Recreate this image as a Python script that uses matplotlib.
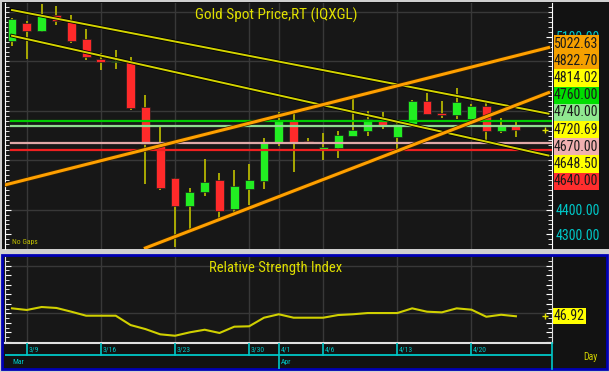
import matplotlib
matplotlib.use('Agg')
import matplotlib.pyplot as plt
import matplotlib.patheffects as pe
from matplotlib.patches import Rectangle
from matplotlib.ticker import MultipleLocator, FixedLocator, FormatStrFormatter
from matplotlib import font_manager

W, H = 609, 372

# schmale Schrift suchen, sonst Liberation Sans
fams = {f.name for f in font_manager.fontManager.ttflist}
NARROW = 'Liberation Sans'
for cand in ['Liberation Sans Narrow', 'Arial Narrow', 'Roboto Condensed',
             'Archivo Narrow', 'PT Sans Narrow', 'Open Sans Condensed']:
    if cand in fams:
        NARROW = cand
        break
plt.rcParams['font.family'] = [NARROW, 'DejaVu Sans']

# --- daten ---
dates = ['3/6', '3/9', '3/10', '3/11', '3/12', '3/13',
         '3/16', '3/17', '3/18', '3/19', '3/20',
         '3/23', '3/24', '3/25', '3/26', '3/27',
         '3/30', '3/31', '4/1', '4/2', '4/3',
         '4/6', '4/7', '4/8', '4/9', '4/10',
         '4/13', '4/14', '4/15', '4/16', '4/17',
         '4/20', '4/21', '4/22', '4/23']
opens = [5081, 5154, 5124, 5188, 5168, 5090, 5009, 4996, 4996, 4817, 4665,
         4527, 4415, 4470, 4519, 4401, 4485, 4515, 4673, 4759, 4678,
         4647, 4648, 4698, 4717, 4759, 4693, 4740, 4840, 4792, 4783,
         4767, 4821, 4717, 4739]
highs = [5176, 5165, 5231, 5224, 5189, 5130, 5035, 5046, 5017, 4865, 4740,
         4528, 4489, 4604, 4550, 4560, 4585, 4689, 4796, 4792, 4689,
         4709, 4718, 4848, 4801, 4796, 4750, 4845, 4871, 4841, 4891,
         4828, 4837, 4772, 4754]
lows = [5061, 5011, 5119, 5146, 5073, 5006, 4965, 4969, 4803, 4502, 4480,
        4248, 4318, 4455, 4365, 4382, 4419, 4485, 4659, 4554, 4669,
        4600, 4608, 4698, 4698, 4725, 4641, 4738, 4787, 4772, 4767,
        4733, 4678, 4711, 4693]
closes = [5170, 5124, 5188, 5165, 5084, 5017, 4996, 5003, 4813, 4665, 4489,
          4415, 4473, 4513, 4394, 4497, 4519, 4669, 4760, 4673, 4671,
          4655, 4702, 4722, 4767, 4743, 4747, 4841, 4787, 4783, 4836,
          4821, 4718, 4739, 4720.69]

rsi = [55.2, 53.5, 56.6, 55.6, 51.7, 47.5, 47.5, 47.5, 37.7, 33.5, 28.0,
       26.5, 30.1, 32.8, 29.4, 36.0, 36.4, 45.4, 49.0, 45.4, 45.4,
       45.4, 48.2, 49.0, 50.3, 50.3, 50.3, 55.2, 51.7, 51.0, 55.2,
       53.8, 46.4, 48.5, 46.92]

# Trendlinien: (x0, y0, x1, y1) in Index/Preis
trend_yellow = [(0, 5208, 36.2, 4788.5), (0, 5104, 36.2, 4619.0)]
trend_orange = [(-0.47, 4500, 36.2, 5056), (9.0, 4244.5, 36.2, 4873.6)]

levels = [4760, 4740, 4670, 4640]
level_colors = ['#00cc00', '#8fdc8f', '#e0a8a8', '#ee2020']

box_vals = [5022.63, 4822.70, 4814.02, 4760.00, 4740.00, 4720.69, 4670.00, 4648.50, 4640.00]
box_colors = ['#f5a000', '#f5a000', '#ffff00', '#00dd00', '#90e890', '#ffff00',
              '#f0b0b0', '#ffff00', '#ff2e2e']

# nur die sichtbaren Achsenbeschriftungen (Rest liegt unter den Boxen)
axis_prices = [4300, 4400, 5100]
tick_dates = ['3/9', '3/16', '3/23', '3/30', '4/1', '4/6', '4/13', '4/20']
grid_prices = [4400, 4600, 4800, 5000, 5200]

XLIM = (-0.506, 36.40)
DARK = '#171717'
CYAN = '#00c8c8'
YEL = '#e0e000'


def box(l, t, r, b):
    return [l / W, 1 - b / H, (r - l) / W, (b - t) / H]


fig = plt.figure(figsize=(W / 100, H / 100), dpi=100, facecolor='#d0d0d0')

bg = fig.add_axes([0, 0, 1, 1])
bg.set_xlim(0, W)
bg.set_ylim(H, 0)
bg.axis('off')
bg.add_patch(Rectangle((2, 2), 607, 247, fc='#121212', ec='none'))
bg.add_patch(Rectangle((1.5, 255), 605, 114, fc='#121212', ec='#0000b4', lw=2))

xs = list(range(len(dates)))
tick_idx = [dates.index(d) for d in tick_dates]

# --- Preis-Chart ---
ax = fig.add_axes(box(4.5, 3, 551.5, 249), facecolor=DARK)
ax.set_xlim(*XLIM)
ax.set_ylim(4240.6, 5236.5)
for s in ['top', 'bottom']:
    ax.spines[s].set_visible(False)
for s in ['left', 'right']:
    ax.spines[s].set_color('white')
ax.set_xticks(tick_idx)
ax.tick_params(axis='x', length=0, labelbottom=False)
ax.grid(axis='x', color='#383838', lw=1)
for g in grid_prices:
    ax.axhline(g, color='#383838', lw=1, zorder=0.5)
ax.yaxis.set_major_locator(FixedLocator(axis_prices))
ax.yaxis.set_minor_locator(MultipleLocator(20))
ax.yaxis.set_major_formatter(FormatStrFormatter('%.2f'))
ax.tick_params(axis='y', which='both', left=True, right=True, direction='in',
               color='white', labelleft=False, labelright=True,
               labelcolor=CYAN, labelsize=10, pad=3)
ax.tick_params(axis='y', which='major', length=4)
ax.tick_params(axis='y', which='minor', length=3)

wick_col = '#b4b400'
ax.vlines(xs, lows, highs, color=wick_col, lw=1.3, zorder=2)
bottoms = [min(o, c) for o, c in zip(opens, closes)]
heights = [max(abs(c - o), 3) for o, c in zip(opens, closes)]
cols = ['#22ee22' if c >= o else '#ff2a2a' for o, c in zip(opens, closes)]
ax.bar(xs, heights, bottom=bottoms, width=0.6, color=cols,
       edgecolor='#202020', lw=0.5, zorder=3)

for lv, lc in zip(levels, level_colors):
    ax.plot([-0.1, XLIM[1]], [lv, lv], color=lc, lw=1.6, zorder=4)

for x0, y0, x1, y1 in trend_yellow:
    ax.plot([x0, x1], [y0, y1], color='#d4d400', lw=1.4, zorder=5,
            path_effects=[pe.Stroke(linewidth=2.6, foreground='#000000'), pe.Normal()])
for x0, y0, x1, y1 in trend_orange:
    ax.plot([x0, x1], [y0, y1], color='#ffa000', lw=2.2, zorder=5,
            path_effects=[pe.Stroke(linewidth=3.2, foreground='#3a2400'), pe.Normal()])

ax.plot([35.96], [closes[-1]], marker='+', color=YEL, ms=4, mew=1, clip_on=False, zorder=6)
ax.text(0.014, 0.03, 'No Gaps', transform=ax.transAxes, color='#c0c000',
        fontsize=5.5, va='center', ha='left')

# --- RSI ---
rax = fig.add_axes(box(4.5, 257, 551.5, 343), facecolor=DARK)
rax.set_xlim(*XLIM)
rax.set_ylim(18.9, 109)
rax.spines['top'].set_visible(False)
for s in ['left', 'right', 'bottom']:
    rax.spines[s].set_color('#e0e0e0')
rax.spines['bottom'].set_linewidth(1.5)
rax.set_xticks(tick_idx)
rax.tick_params(axis='x', length=0, labelbottom=False)
rax.grid(axis='x', color='#383838', lw=1)
for g in [50, 100]:
    rax.axhline(g, color='#383838', lw=1, zorder=0.5)
rax.yaxis.set_major_locator(MultipleLocator(10))
rax.yaxis.set_minor_locator(MultipleLocator(5))
rax.tick_params(axis='y', which='both', left=True, right=True, direction='in',
                color='white', labelleft=False, labelright=False)
rax.tick_params(axis='y', which='major', length=4)
rax.tick_params(axis='y', which='minor', length=3)
rax.plot(xs, rsi, color='#d0d000', lw=1.5, zorder=3)
rax.plot([35.96], [rsi[-1]], marker='+', color=YEL, ms=4, mew=1, clip_on=False, zorder=6)

# --- Datumsachse ---
dax = fig.add_axes(box(4.5, 343, 551.5, 369), facecolor='none')
dax.set_xlim(*XLIM)
dax.set_ylim(0, 1)
dax.set_xticks([])
dax.set_yticks([])
for s in ['top', 'bottom', 'left']:
    dax.spines[s].set_visible(False)
dax.spines['right'].set_color(CYAN)
dax.spines['right'].set_linewidth(1.2)
dax.plot([0.05 + XLIM[0], XLIM[1]], [0.54, 0.54], color=CYAN, lw=1.3)
for i, d in zip(tick_idx, tick_dates):
    bot = 0.0 if d == '4/1' else 0.54
    dax.plot([i, i], [bot, 1.0], color=CYAN, lw=1.2)
    dax.text(i + 0.12, 0.76, d, color=CYAN, fontsize=5.5, va='center', ha='left')
dax.text(0, 0.27, 'Mar', color=CYAN, fontsize=5.5, va='center', ha='left')
dax.text(dates.index('4/1') + 0.12, 0.27, 'Apr', color=CYAN, fontsize=5.5, va='center', ha='left')

# --- Beschriftungen / Preisboxen ---
lab = fig.add_axes([0, 0, 1, 1], facecolor='none')
lab.set_xlim(0, W)
lab.set_ylim(H, 0)
lab.axis('off')
bh = 17.2
for k, (v, c) in enumerate(zip(box_vals, box_colors)):
    y = 35 + k * bh
    lab.add_patch(Rectangle((554, y), 44.5, bh, fc=c, ec='none'))
    lab.text(576.2, y + bh / 2, f'{v:.2f}', color='#1a1a1a', fontsize=10,
             ha='center', va='center')
lab.add_patch(Rectangle((553, 308.3), 33, 15.7, fc='#ffff00', ec='none'))
lab.text(569.5, 316.2, f'{rsi[-1]:.2f}', color='#1a1a1a', fontsize=10, ha='center', va='center')

lab.text(276, 15, 'Gold Spot Price,RT (IQXGL)', color=YEL, fontsize=11, ha='center', va='center')
lab.text(276, 268, 'Relative Strength Index', color=YEL, fontsize=10.5, ha='center', va='center')
lab.text(590, 357, 'Day', color='#d0d000', fontsize=7, ha='center', va='center')

fig.savefig('out.png', dpi=100, facecolor=fig.get_facecolor())
